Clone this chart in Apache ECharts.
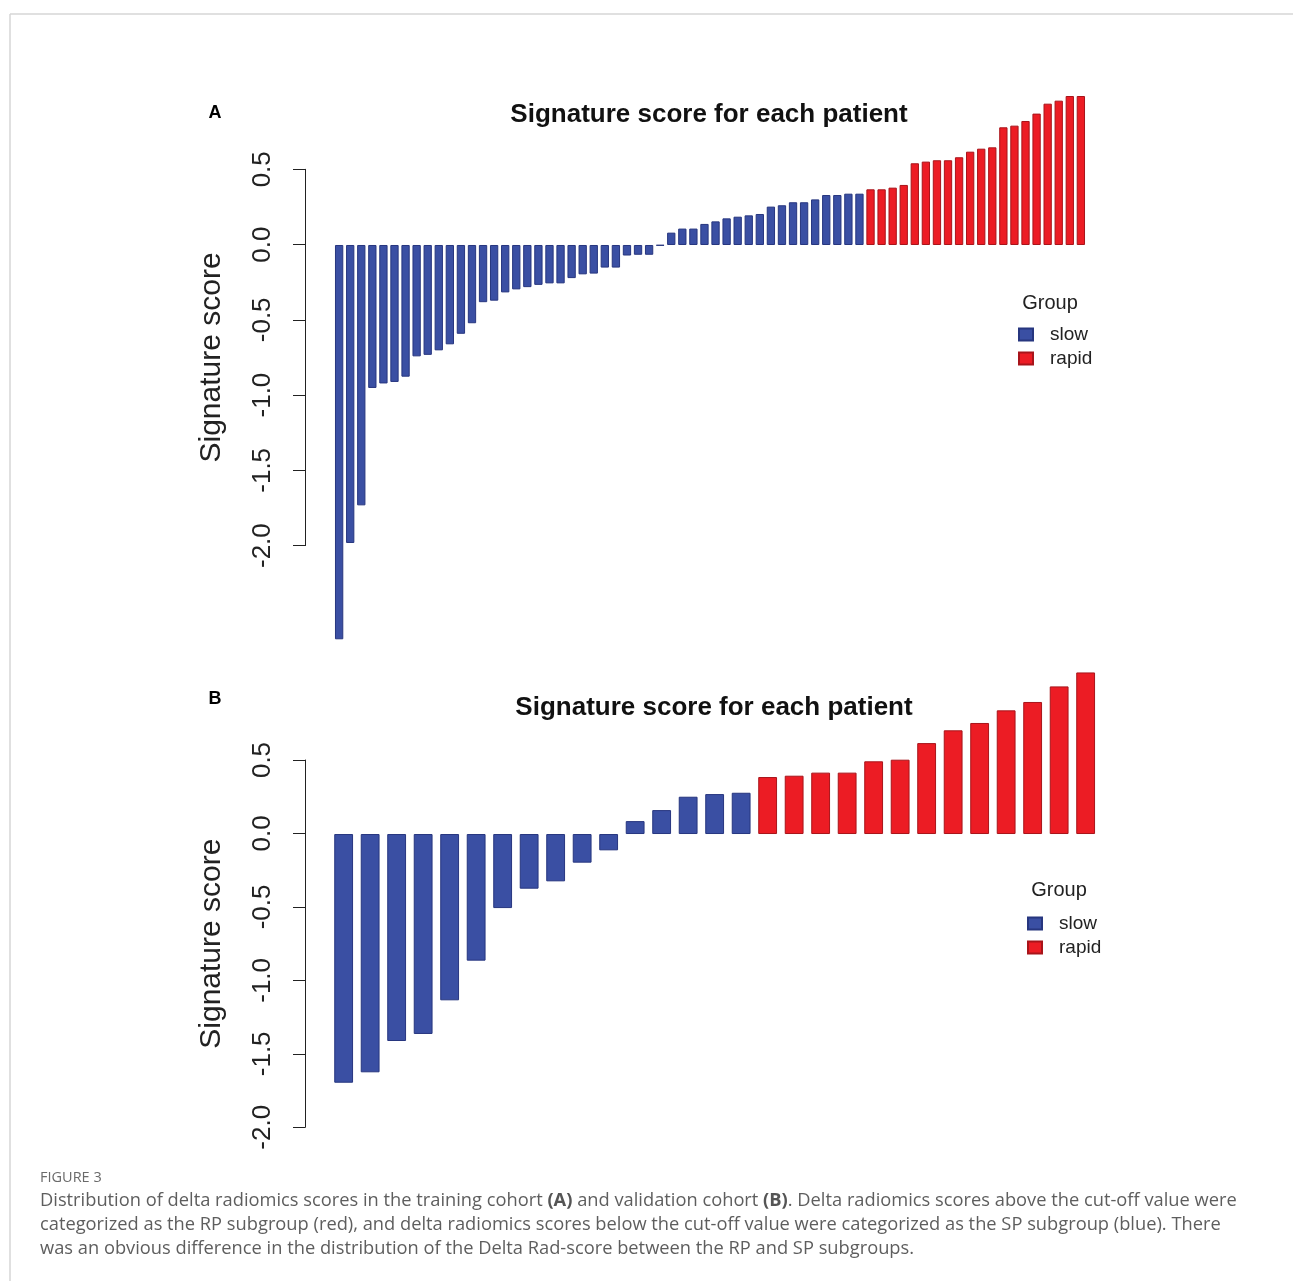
<!DOCTYPE html>
<html>
<head>
<meta charset="utf-8">
<script src="https://cdn.jsdelivr.net/npm/echarts@6/dist/echarts.min.js"></script>
<style>
html,body{margin:0;padding:0;background:#fff;}
#chart{width:1293px;height:1281px;}
</style>
</head>
<body>
<div id="chart"></div>
<script>
// ---- Data ----
// Panel A: training cohort, sorted signature scores
const slowA = [-2.62, -1.98, -1.73, -0.95, -0.92, -0.91, -0.875, -0.74, -0.73, -0.70,
  -0.66, -0.59, -0.52, -0.38, -0.37, -0.315, -0.295, -0.28, -0.265, -0.255,
  -0.255, -0.22, -0.195, -0.19, -0.15, -0.15, -0.07, -0.065, -0.065, -0.004,
  0.082, 0.109, 0.109, 0.14, 0.157, 0.177, 0.188, 0.197, 0.206, 0.255,
  0.264, 0.284, 0.284, 0.303, 0.332, 0.332, 0.341, 0.341];
const rapidA = [0.37, 0.37, 0.381, 0.399, 0.543, 0.554, 0.563, 0.563, 0.583, 0.62,
  0.64, 0.649, 0.782, 0.793, 0.824, 0.873, 0.939, 0.959, 0.99, 0.99];
// Panel B: validation cohort
const slowB = [-1.693, -1.622, -1.409, -1.361, -1.132, -0.862, -0.504, -0.372, -0.322, -0.195,
  -0.111, 0.088, 0.163, 0.254, 0.272, 0.281];
const rapidB = [0.388, 0.397, 0.418, 0.418, 0.495, 0.506, 0.619, 0.706, 0.756, 0.842,
  0.899, 1.005, 1.10];

const groupNames = ['slow', 'rapid'];
const panelLabels = ['A', 'B'];
const plotTitle = 'Signature score for each patient';
const yAxisTitle = 'Signature score';
const legendTitle = 'Group';
const yTickMin = -2.0, yTickMax = 0.5, yTickStep = 0.5;

// ---- Helpers to build series data ----
function patients(n) { const c = []; for (let i = 1; i <= n; i++) c.push('P' + i); return c; }
function padSlow(slow, rapid) { return slow.concat(rapid.map(() => null)); }
function padRapid(slow, rapid) { return slow.map(() => null).concat(rapid); }

const catsA = patients(slowA.length + rapidA.length);
const catsB = patients(slowB.length + rapidB.length);

const BLUE = '#3a4fa3', BLUE_B = '#27367f';
const RED = '#ec1c24', RED_B = '#a8141a';
const FONT = '"Liberation Sans", Arial, sans-serif';

const chart = echarts.init(document.getElementById('chart'), null, {renderer: 'canvas'});

function tickAxis(gridIndex) {
  return {
    gridIndex, type: 'value', position: 'left',
    min: yTickMin, max: yTickMax, interval: yTickStep,
    axisLine: {show: true, lineStyle: {color: '#222', width: 1}},
    axisTick: {show: true, length: 12, lineStyle: {color: '#222', width: 1}},
    splitLine: {show: false},
    axisLabel: {
      rotate: 90, margin: 29, fontSize: 26, fontFamily: FONT, color: '#222',
      formatter: v => v.toFixed(1)
    },
    name: yAxisTitle, nameLocation: 'middle', nameRotate: 90, nameGap: 78,
    nameTextStyle: {fontSize: 30, fontFamily: FONT, color: '#222'}
  };
}

function barSeries(name, xi, data, color, border, gap) {
  return {
    type: 'bar', name, xAxisIndex: xi, yAxisIndex: xi, data,
    barGap: '-100%', barCategoryGap: gap, silent: true,
    itemStyle: {color, borderColor: border, borderWidth: 1}
  };
}

function legendFor(left, top) {
  return {
    data: groupNames, orient: 'vertical', left, top, padding: 0,
    icon: 'rect', itemWidth: 14, itemHeight: 12, itemGap: 5,
    textStyle: {fontSize: 19, fontFamily: FONT, color: '#222', padding: [0, 0, 0, 12]},
    selectedMode: false
  };
}

const txt = (x, y, text, size, weight, align, color, family) => ({
  type: 'text', x, y, silent: true,
  style: {text, fontSize: size, fontWeight: weight || 'normal', fontFamily: family || FONT,
    fill: color || '#111', align: align || 'center', verticalAlign: 'middle'}
});

const capFont = '"Open Sans", "Noto Sans", sans-serif';
const capSize = 18.3;
const capRich = {b: {fontWeight: 'bold', fontSize: capSize, fontFamily: capFont, fill: '#555'}};
const capLine = (y, text) => ({
  type: 'text', x: 40, y, silent: true,
  style: {text, rich: capRich, fontSize: capSize, fontFamily: capFont, fill: '#5e5e5e',
    align: 'left', verticalAlign: 'middle'}
});

const option = {
  backgroundColor: '#fff',
  animation: false,
  grid: [
    {left: 333.6, width: 752.8, top: 94.5, height: 549.3},
    {left: 305, width: 20, top: 169.3, height: 376.3},
    {left: 330.4, width: 768.5, top: 665.1, height: 426},
    {left: 305, width: 20, top: 760, height: 367.3}
  ],
  xAxis: [
    {gridIndex: 0, type: 'category', data: catsA, show: false},
    {gridIndex: 1, type: 'value', show: false},
    {gridIndex: 2, type: 'category', data: catsB, show: false},
    {gridIndex: 3, type: 'value', show: false}
  ],
  yAxis: [
    {gridIndex: 0, type: 'value', min: -2.65, max: 1.0, show: false},
    tickAxis(1),
    {gridIndex: 2, type: 'value', min: -1.75, max: 1.15, show: false},
    tickAxis(3)
  ],
  legend: [legendFor(1018, 325), legendFor(1027, 914)],
  series: [
    barSeries(groupNames[0], 0, padSlow(slowA, rapidA), BLUE, BLUE_B, '25%'),
    barSeries(groupNames[1], 0, padRapid(slowA, rapidA), RED, RED_B, '25%'),
    barSeries(groupNames[0], 2, padSlow(slowB, rapidB), BLUE, BLUE_B, '29%'),
    barSeries(groupNames[1], 2, padRapid(slowB, rapidB), RED, RED_B, '29%')
  ],
  graphic: [
    {type: 'line', silent: true, shape: {x1: 10, y1: 14, x2: 1293, y2: 14}, style: {stroke: '#d6d6d6', lineWidth: 1.5}},
    {type: 'line', silent: true, shape: {x1: 10, y1: 14, x2: 10, y2: 1281}, style: {stroke: '#d6d6d6', lineWidth: 1.5}},
    txt(215, 113, panelLabels[0], 18, 'bold', 'center', '#000'),
    txt(215, 699, panelLabels[1], 18, 'bold', 'center', '#000'),
    txt(709, 115, plotTitle, 26, 'bold', 'center', '#111'),
    txt(714, 708, plotTitle, 26, 'bold', 'center', '#111'),
    txt(1050, 303, legendTitle, 20, 'normal', 'center', '#222'),
    txt(1059, 890, legendTitle, 20, 'normal', 'center', '#222'),
    txt(40, 1178, 'FIGURE 3', 14.5, 'normal', 'left', '#6a6a6a', capFont),
    capLine(1201, 'Distribution of delta radiomics scores in the training cohort {b|(A)} and validation cohort {b|(B)}. Delta radiomics scores above the cut-off value were'),
    capLine(1225, 'categorized as the RP subgroup (red), and delta radiomics scores below the cut-off value were categorized as the SP subgroup (blue). There'),
    capLine(1249, 'was an obvious difference in the distribution of the Delta Rad-score between the RP and SP subgroups.')
  ]
};
chart.setOption(option);
</script>
</body>
</html>
